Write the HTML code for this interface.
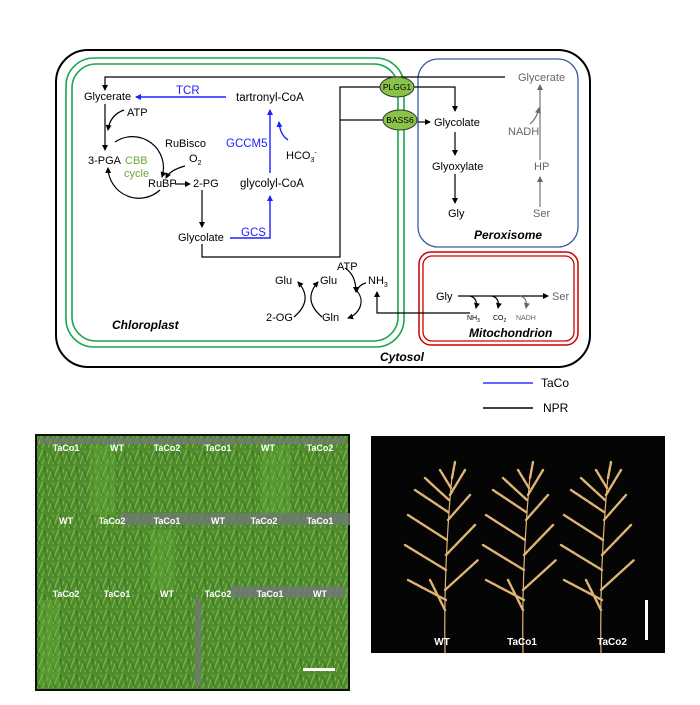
<!DOCTYPE html>
<html><head><meta charset="utf-8"><style>
html,body{margin:0;padding:0;background:#fff;width:700px;height:705px;overflow:hidden}
svg text{font-family:"Liberation Sans",sans-serif}
</style></head><body>
<svg width="700" height="705" viewBox="0 0 700 705" xmlns="http://www.w3.org/2000/svg">
<defs>
<marker id="a" markerWidth="6" markerHeight="6" refX="5" refY="3" orient="auto" markerUnits="userSpaceOnUse"><path d="M0,0 L6,3 L0,6z" fill="#000"/></marker>
<marker id="b" markerWidth="6" markerHeight="6" refX="5" refY="3" orient="auto" markerUnits="userSpaceOnUse"><path d="M0,0 L6,3 L0,6z" fill="#2020ff"/></marker>
<marker id="g" markerWidth="6" markerHeight="6" refX="5" refY="3" orient="auto" markerUnits="userSpaceOnUse"><path d="M0,0 L6,3 L0,6z" fill="#666"/></marker>
<pattern id="grass" width="16" height="16" patternUnits="userSpaceOnUse">
<rect width="16" height="16" fill="#4f8c2e"/>
<path d="M0,16 L5,3 M5,16 L11,1 M10,16 L16,5" stroke="#77b545" stroke-width="1.3"/>
<path d="M7,16 L3,4 M14,13 L12,2" stroke="#3a6e20" stroke-width="1.1"/>
</pattern>
</defs>
<rect x="56" y="50" width="534" height="317" rx="32" fill="none" stroke="#000" stroke-width="2"/>
<rect x="66" y="58" width="338" height="289" rx="28" fill="none" stroke="#1aa64a" stroke-width="1.6"/>
<rect x="72" y="64" width="326" height="277" rx="24" fill="none" stroke="#1aa64a" stroke-width="1.6"/>
<rect x="418" y="59" width="160" height="188" rx="20" fill="#fff" stroke="#3a5a9a" stroke-width="1.3"/>
<rect x="419" y="252" width="159" height="93" rx="12" fill="none" stroke="#c00" stroke-width="1.5"/>
<rect x="423" y="256" width="151" height="85" rx="9" fill="none" stroke="#c00" stroke-width="1.3"/>

<g fill="none" stroke="#000" stroke-width="1.2">
<path d="M505,77 H105 V90" marker-end="url(#a)"/>
<path d="M105,104 V150" marker-end="url(#a)"/>
<path d="M124,110 Q110,115 108,130" marker-end="url(#a)"/>
<path d="M115,142 A31,31 0 0 1 162,177" marker-end="url(#a)"/>
<path d="M160,190 A31,31 0 0 1 108,168" marker-end="url(#a)"/>
<path d="M185,166 Q170,170 166,178" marker-end="url(#a)"/>
<path d="M175,184 H190" marker-end="url(#a)"/>
<path d="M202,190 V227" marker-end="url(#a)"/>
<path d="M202,244 V257 H340 V87 H380"/>
<path d="M340,120 H383"/>
<path d="M414,87 H455 V111" marker-end="url(#a)"/>
<path d="M418,122 H430" marker-end="url(#a)"/>
<path d="M455,132 V155" marker-end="url(#a)"/>
<path d="M455,174 V203" marker-end="url(#a)"/>
<path d="M458,296 H548" marker-end="url(#a)"/>
<path d="M470,296 Q478,298 476,308" marker-end="url(#a)"/>
<path d="M492,296 Q500,298 498,308" marker-end="url(#a)"/>
<path d="M470,313 H377 V292" marker-end="url(#a)"/>
<path d="M294,317 Q314,300 298,282" marker-end="url(#a)"/>
<path d="M322,317 Q302,300 318,282" marker-end="url(#a)"/>
<path d="M345,268 Q356,275 356,292" marker-end="url(#a)"/>
<path d="M366,283 Q358,285 357,292"/>
<path d="M356,290 C366,300 360,314 348,318" marker-end="url(#a)"/>
</g>
<g fill="none" stroke="#666" stroke-width="1.1">
<path d="M540,207 V177" marker-end="url(#g)"/>
<path d="M540,160 V85" marker-end="url(#g)"/>
<path d="M530,124 Q537,118 539,108" marker-end="url(#g)"/>
<path d="M520,296 Q528,298 526,308" marker-end="url(#g)"/>
</g>
<g fill="none" stroke="#2020ff" stroke-width="1.4">
<path d="M226,97 H136" marker-end="url(#b)"/>
<path d="M230,238 H270 V196" marker-end="url(#b)"/>
<path d="M270,173 V110" marker-end="url(#b)"/>
<path d="M288,140 Q280,135 279,122" marker-end="url(#b)"/>
</g>
<ellipse cx="397" cy="87" rx="17" ry="10" fill="#8bc34a" stroke="#333" stroke-width="1"/>
<ellipse cx="400" cy="120" rx="17" ry="10" fill="#8bc34a" stroke="#333" stroke-width="1"/>
<g font-size="8.5" text-anchor="middle"><text x="397" y="90">PLGG1</text><text x="400" y="123">BASS6</text></g>

<g font-size="11" fill="#000">
<text x="84" y="100">Glycerate</text>
<text x="127" y="116">ATP</text>
<text x="88" y="164">3-PGA</text>
<text x="165" y="147">RuBisco</text>
<text x="189" y="162">O<tspan font-size="7" dy="3">2</tspan></text>
<text x="148" y="187">RuBP</text>
<text x="193" y="187">2-PG</text>
<text x="178" y="241">Glycolate</text>
<text x="286" y="159">HCO<tspan font-size="7" dy="3">3</tspan><tspan font-size="7" dy="-7">-</tspan></text>
<text x="275" y="284">Glu</text>
<text x="320" y="284">Glu</text>
<text x="337" y="270">ATP</text>
<text x="368" y="284">NH<tspan font-size="7" dy="3">3</tspan></text>
<text x="266" y="321">2-OG</text>
<text x="322" y="321">Gln</text>
<text x="434" y="126">Glycolate</text>
<text x="432" y="170">Glyoxylate</text>
<text x="448" y="217">Gly</text>
<text x="436" y="300">Gly</text>
</g>
<g font-size="11.5">
<text x="236" y="101" font-family="Liberation Serif">tartronyl-CoA</text>
<text x="240" y="187" font-family="Liberation Serif">glycolyl-CoA</text>
<text x="176" y="94" fill="#2020ff" font-family="Liberation Serif">TCR</text>
<text x="226" y="147" fill="#2020ff" font-family="Liberation Serif">GCCM5</text>
<text x="241" y="236" fill="#2020ff" font-family="Liberation Serif">GCS</text>
</g>
<g font-size="11" fill="#6aa83a"><text x="125" y="164">CBB</text><text x="124" y="177">cycle</text></g>
<g font-size="11" fill="#666">
<text x="518" y="81">Glycerate</text>
<text x="508" y="135">NADH</text>
<text x="534" y="170">HP</text>
<text x="533" y="217">Ser</text>
<text x="552" y="300">Ser</text>
</g>
<g font-size="7"><text x="467" y="320">NH<tspan font-size="5" dy="2">3</tspan></text><text x="493" y="320">CO<tspan font-size="5" dy="2">2</tspan></text><text x="516" y="320" fill="#666">NADH</text></g>
<g font-size="12" font-weight="bold" font-style="italic">
<text x="112" y="329">Chloroplast</text>
<text x="474" y="239">Peroxisome</text>
<text x="469" y="337">Mitochondrion</text>
<text x="380" y="361">Cytosol</text>
</g>
<line x1="483" y1="383" x2="533" y2="383" stroke="#3030ff" stroke-width="1.5"/>
<line x1="483" y1="408" x2="533" y2="408" stroke="#000" stroke-width="1.5"/>
<text x="541" y="387" font-size="12">TaCo</text>
<text x="543" y="412" font-size="12">NPR</text>

<rect x="36" y="435" width="313" height="255" fill="url(#grass)" stroke="#111" stroke-width="2"/>
<g fill="#66b03a" opacity="0.35">
<rect x="90" y="445" width="25" height="70"/><rect x="150" y="530" width="25" height="60"/><rect x="260" y="445" width="30" height="70"/><rect x="40" y="600" width="20" height="85"/>
</g>
<g fill="#707a74" opacity="0.8">
<rect x="40" y="438" width="305" height="6"/>
<rect x="120" y="513" width="230" height="12"/>
<rect x="230" y="586" width="115" height="12"/>
<rect x="195" y="598" width="6" height="88"/>
</g>
<g font-size="9" font-weight="bold" fill="#fff" text-anchor="middle">
<text x="66" y="451">TaCo1</text><text x="117" y="451">WT</text><text x="167" y="451">TaCo2</text><text x="218" y="451">TaCo1</text><text x="268" y="451">WT</text><text x="320" y="451">TaCo2</text>
<text x="66" y="524">WT</text><text x="112" y="524">TaCo2</text><text x="167" y="524">TaCo1</text><text x="218" y="524">WT</text><text x="264" y="524">TaCo2</text><text x="320" y="524">TaCo1</text>
<text x="66" y="597">TaCo2</text><text x="117" y="597">TaCo1</text><text x="167" y="597">WT</text><text x="218" y="597">TaCo2</text><text x="270" y="597">TaCo1</text><text x="320" y="597">WT</text>
</g>
<rect x="303" y="668" width="32" height="3" fill="#fff"/>

<rect x="371" y="436" width="294" height="217" fill="#050505"/>
<g stroke="#e0b574" stroke-width="2.4" fill="none" stroke-linecap="round" stroke-dasharray="5 1.5">
<g id="p1">
<path d="M445,653 C444,600 446,540 452,476" stroke-width="1.2" stroke-dasharray="none"/>
<path d="M445,610 L430,580 M446,600 L408,580 M445,590 L478,560 M446,570 L405,545 M446,555 L475,525 M447,540 L408,515 M448,520 L470,495 M448,512 L415,490 M449,500 L425,478 M450,495 L465,470 M451,488 L440,470 M452,478 L455,462"/>
</g>
<use href="#p1" x="78"/>
<use href="#p1" x="156"/>
</g>
<g font-size="10" font-weight="bold" fill="#fff" text-anchor="middle">
<text x="442" y="645">WT</text><text x="522" y="645">TaCo1</text><text x="612" y="645">TaCo2</text>
</g>
<rect x="645" y="600" width="3" height="40" fill="#fff"/>
</svg>
</body></html>
